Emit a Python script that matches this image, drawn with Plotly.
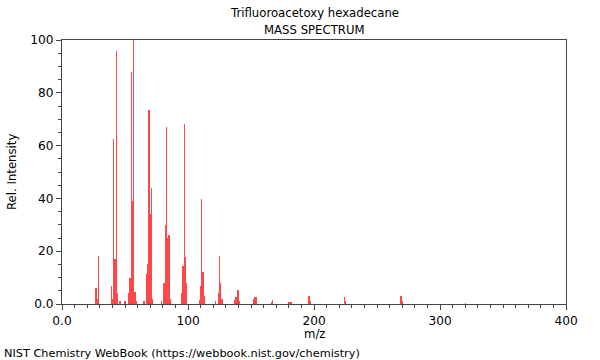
import plotly.graph_objects as go

title_main = "Trifluoroacetoxy hexadecane"
title_sub = "MASS SPECTRUM"
footer = "NIST Chemistry WebBook (https://webbook.nist.gov/chemistry)"
x_title = "m/z"
y_title = "Rel. Intensity"

mz = [27, 28, 29, 39, 40, 41, 42, 43, 44, 46, 50, 53, 54, 55, 56, 57, 58, 59,
      65, 67, 68, 69, 70, 71, 72, 79, 81, 82, 83, 84, 85, 86,
      95, 96, 97, 98, 99, 109, 110, 111, 112, 113, 122, 124, 125, 126, 127,
      137, 138, 139, 140, 141, 152, 153, 154, 166, 167, 180, 181, 182,
      196, 197, 224, 225, 269, 270, 320]
intensity = [6, 2, 18, 7, 2, 62.5, 17, 96, 4, 1, 1, 4.3, 10, 88, 39, 100, 4.5, 1,
             1, 11.5, 15, 73.5, 34, 44, 2, 1, 8, 30, 67, 25, 26, 2,
             4, 14.4, 68, 17.8, 8, 1.5, 6.8, 39.7, 12, 3, 1, 4, 18, 8, 2,
             1.5, 2.7, 5.3, 5.3, 1.3, 2, 2.7, 2.8, 0.8, 1.5, 0.9, 0.9, 0.9,
             3, 1, 2.5, 1, 3, 1, 0.5]

x_tickvals = [0, 100, 200, 300, 400]
x_ticktext = ["0.0", "100", "200", "300", "400"]
y_tickvals = [0, 20, 40, 60, 80, 100]
y_ticktext = ["0.0", "20", "40", "60", "80", "100"]

fig = go.Figure()
fig.add_trace(go.Bar(
    x=mz, y=intensity, width=1.0,
    marker=dict(color="rgba(255,0,0,0.72)", line=dict(width=0)),
    hoverinfo="x+y",
))

font_family = "DejaVu Sans, sans-serif"
fig.update_layout(
    width=600, height=360,
    margin=dict(l=62, r=34, t=40, b=56, autoexpand=False),
    paper_bgcolor="white", plot_bgcolor="white",
    showlegend=False,
    font=dict(family=font_family, size=12, color="#000"),
    bargap=0,
)
fig.update_xaxes(
    range=[0, 400], tickvals=x_tickvals, ticktext=x_ticktext,
    ticks="outside", ticklen=5, tickcolor="#444",
    minor=dict(dtick=10, ticks="outside", ticklen=3, tickcolor="#444"),
    showline=True, linecolor="#444", linewidth=1, mirror=True,
    showgrid=False, zeroline=False, automargin=False,
    tickfont=dict(size=12.2),
)
fig.update_yaxes(
    range=[0, 100], tickvals=y_tickvals, ticktext=y_ticktext,
    ticks="outside", ticklen=5, tickcolor="#444",
    minor=dict(dtick=5, ticks="outside", ticklen=3, tickcolor="#444"),
    showline=True, linecolor="#444", linewidth=1, mirror=True,
    showgrid=False, zeroline=False, automargin=False,
    tickfont=dict(size=12.2),
)
fs = 11.7
fig.add_annotation(text=title_main, xref="paper", yref="paper", x=0.5, y=1,
                   yshift=27, yanchor="middle", showarrow=False, font=dict(size=fs))
fig.add_annotation(text=title_sub, xref="paper", yref="paper", x=0.5, y=1,
                   yshift=10, yanchor="middle", showarrow=False, font=dict(size=fs))
fig.add_annotation(text=x_title, xref="paper", yref="paper", x=0.5, y=0,
                   yshift=-30, yanchor="middle", showarrow=False, font=dict(size=fs))
fig.add_annotation(text=y_title, xref="paper", yref="paper", x=0, y=0.5,
                   xshift=-50, xanchor="center", yanchor="middle", textangle=-90,
                   showarrow=False, font=dict(size=fs))
fig.add_annotation(text=footer, xref="paper", yref="paper", x=0, y=0,
                   xshift=-60, yshift=-49, xanchor="left", yanchor="middle",
                   showarrow=False, font=dict(size=11.3))

fig.write_html("out.html", config={"displayModeBar": False},
               post_script="document.body.style.margin='0';")
